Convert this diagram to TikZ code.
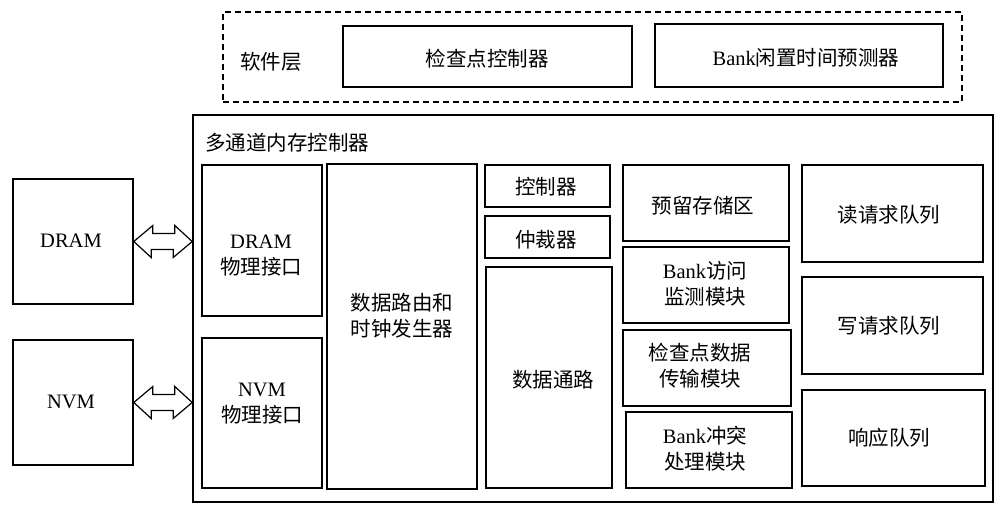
\documentclass[tikz,border=0pt]{standalone}
\usepackage{fontspec}
\setmainfont{Liberation Serif}
\newfontfamily\cjk{Noto Sans CJK SC}
\usetikzlibrary{fit}
\begin{document}
\begin{tikzpicture}[x=1pt,y=-1pt,
  box/.style={draw, line width=1.6pt, inner sep=0pt},
  dbox/.style={draw, line width=1.4pt, inner sep=0pt, dash pattern=on 6pt off 4pt},
  lbl/.style={font=\fontsize{20.5}{26}\selectfont, align=center, inner sep=0pt},
  dblarrow/.style={draw, line width=1.2pt, fill=white, line join=miter}]
\useasboundingbox (0,0) rectangle (1005,518);
% software layer
\node[dbox, fit={(223,12) (962,102)}] (sw) {};
\node[lbl] (swt) at (271,62) {\cjk 软件层};
\node[box, fit={(343,26) (632,87)}] (ckc) {};
\node[lbl] (ckct) at (487,59) {\cjk 检查点控制器};
\node[box, fit={(655,24) (943,87)}] (bip) {};
\node[lbl] (bipt) at (806,58) {Bank{\cjk 闲置时间预测器}};
% memories
\node[box, fit={(13,179) (133,304)}] (dram) {};
\node[lbl] (dramt) at (71,241) {DRAM};
\node[box, fit={(13,340) (133,465)}] (nvm) {};
\node[lbl] (nvmt) at (71,402) {NVM};
% main controller
\node[box, fit={(193,115) (993,502)}] (mc) {};
\node[lbl, anchor=west] (mct) at (205,143) {\cjk 多通道内存控制器};
\node[box, fit={(202,165) (322,316)}] (dphy) {};
\node[lbl] (dphyt) at (261,256) {DRAM\\\cjk 物理接口};
\node[box, fit={(202,338) (322,488)}] (nphy) {};
\node[lbl] (nphyt) at (262,404) {NVM\\\cjk 物理接口};
\node[box, fit={(327,164) (477,489)}] (route) {};
\node[lbl] (routet) at (402,316) {\cjk 数据路由和\\\cjk 时钟发生器};
\node[box, fit={(485,165) (610,207)}] (ctrl) {};
\node[lbl] (ctrlt) at (546,187) {\cjk 控制器};
\node[box, fit={(485,216) (610,258)}] (arb) {};
\node[lbl] (arbt) at (546,240) {\cjk 仲裁器};
\node[box, fit={(486,267) (612,488)}] (dp) {};
\node[lbl] (dpt) at (553,380) {\cjk 数据通路};
\node[box, fit={(623,165) (789,241)}] (rsv) {};
\node[lbl] (rsvt) at (703,206) {\cjk 预留存储区};
\node[box, fit={(623,247) (789,323)}] (bam) {};
\node[lbl] (bamt) at (705,284) {Bank{\cjk 访问}\\\cjk 监测模块};
\node[box, fit={(623,330) (791,406)}] (cdt) {};
\node[lbl] (cdtt) at (700,366) {\cjk 检查点数据\\\cjk 传输模块};
\node[box, fit={(626,412) (792,488)}] (bch) {};
\node[lbl] (bcht) at (705,449) {Bank{\cjk 冲突}\\\cjk 处理模块};
\node[box, fit={(802,165) (983,262)}] (rq) {};
\node[lbl] (rqt) at (889,215) {\cjk 读请求队列};
\node[box, fit={(802,277) (983,374)}] (wq) {};
\node[lbl] (wqt) at (889,326) {\cjk 写请求队列};
\node[box, fit={(802,390) (985,486)}] (resp) {};
\node[lbl] (respt) at (889,438) {\cjk 响应队列};
% double arrows
\draw[dblarrow] (dram.east) -- ++(19,-16) -- ++(0,8) -- ++(22,0) -- ++(0,-8)
  -- (mc.west |- dram.east) -- ++(-19,16) -- ++(0,-8) -- ++(-22,0) -- ++(0,8) -- cycle;
\draw[dblarrow] (nvm.east) -- ++(19,-16) -- ++(0,8) -- ++(22,0) -- ++(0,-8)
  -- (mc.west |- nvm.east) -- ++(-19,16) -- ++(0,-8) -- ++(-22,0) -- ++(0,8) -- cycle;
\end{tikzpicture}
\end{document}
